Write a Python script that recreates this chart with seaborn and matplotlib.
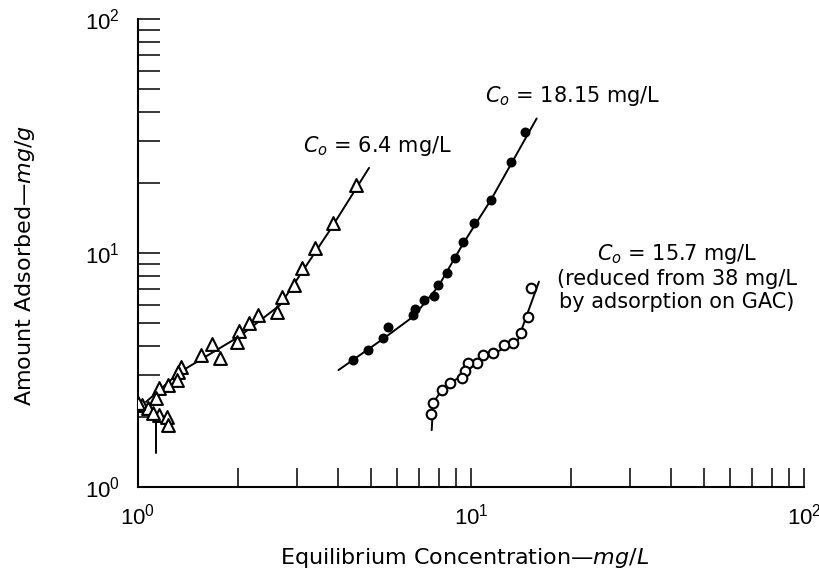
import matplotlib
matplotlib.use("Agg")
import matplotlib.pyplot as plt
import seaborn as sns

# Isotherm data: equilibrium concentration (mg/L) vs amount adsorbed (mg/g)
c1_x = [4.51, 3.84, 3.40, 3.10, 2.94, 2.70, 2.61, 2.29, 2.15, 2.01, 1.98, 1.76,
        1.67, 1.55, 1.35, 1.32, 1.31, 1.23, 1.16, 1.13, 1.03, 1.07, 1.16, 1.22,
        1.23, 1.00, 1.11]
c1_y = [19.5, 13.5, 10.5, 8.60, 7.30, 6.51, 5.61, 5.43, 5.01, 4.66, 4.18, 3.55,
        4.08, 3.67, 3.27, 3.11, 2.87, 2.73, 2.65, 2.39, 2.24, 2.17, 2.03, 2.00,
        1.84, 2.29, 2.07]
fit1_x = [1.057, 1.337, 2.025, 2.670, 3.065, 3.773, 4.94]
fit1_y = [2.31, 3.10, 4.42, 5.99, 8.05, 12.54, 23.1]
drop1_x = [1.13, 1.13]
drop1_y = [2.07, 1.40]

c2_x = [4.43, 4.92, 5.45, 5.65, 6.71, 6.79, 7.22, 7.74, 7.98, 8.47, 8.95, 9.48,
        10.21, 11.46, 13.16, 14.53]
c2_y = [3.49, 3.85, 4.34, 4.84, 5.43, 5.75, 6.30, 6.55, 7.33, 8.21, 9.49, 11.12,
        13.50, 16.85, 24.56, 33.0]
fit2_x = [4.00, 5.45, 6.71, 7.98, 9.48, 11.46, 15.75]
fit2_y = [3.16, 4.30, 5.35, 7.20, 11.0, 16.8, 37.6]

c3_x = [15.14, 14.86, 14.13, 13.40, 12.59, 11.67, 10.89, 10.40, 9.81, 9.59, 9.38,
        8.65, 8.17, 7.70, 7.59]
c3_y = [7.07, 5.31, 4.56, 4.14, 4.05, 3.73, 3.67, 3.40, 3.40, 3.14, 2.91, 2.79,
        2.60, 2.29, 2.05]
fit3_x = [7.62, 7.70, 8.18, 9.40, 10.64, 12.65, 13.84, 14.53, 16.0]
fit3_y = [1.75, 2.29, 2.60, 3.01, 3.49, 3.93, 4.25, 5.17, 7.54]

decade_ticks = [1, 10, 100]
decade_labels = [r"$\mathdefault{10^{0}}$", r"$\mathdefault{10^{1}}$",
                 r"$\mathdefault{10^{2}}$"]
labels = ["$C_o$ = 6.4 mg/L", "$C_o$ = 18.15 mg/L",
          "$C_o$ = 15.7 mg/L\n(reduced from 38 mg/L\nby adsorption on GAC)"]

sns.set_style("ticks")
plt.rcParams["font.family"] = ["DejaVu Sans"]
plt.rcParams["mathtext.fontset"] = "custom"
plt.rcParams["mathtext.rm"] = "DejaVu Sans"
plt.rcParams["mathtext.it"] = "DejaVu Sans:italic"
plt.rcParams["mathtext.bf"] = "DejaVu Sans:bold"
plt.rcParams["text.color"] = "black"
plt.rcParams["axes.labelcolor"] = "black"

fig = plt.figure(figsize=(8.2, 5.7), dpi=100)
ax = fig.add_axes([138 / 820, 1 - 487 / 570, 666 / 820, 468 / 570])
ax.set_xscale("log")
ax.set_yscale("log")

line_kw = dict(color="black", linewidth=1.4, sort=False, estimator=None, ax=ax)
sns.lineplot(x=fit1_x, y=fit1_y, **line_kw)
sns.lineplot(x=drop1_x, y=drop1_y, **line_kw)
sns.lineplot(x=fit2_x, y=fit2_y, **line_kw)
sns.lineplot(x=fit3_x, y=fit3_y, **line_kw)

sns.scatterplot(x=c1_x, y=c1_y, marker="^", s=85, facecolor="white",
                edgecolor="black", linewidth=1.5, ax=ax, zorder=3)
sns.scatterplot(x=c2_x, y=c2_y, marker="o", s=38, facecolor="black",
                edgecolor="black", linewidth=1.0, ax=ax, zorder=3)
sns.scatterplot(x=c3_x, y=c3_y, marker="o", s=48, facecolor="white",
                edgecolor="black", linewidth=1.5, ax=ax, zorder=3)

ax.set_xlim(1, 100)
ax.set_ylim(1, 100)

for s in ("top", "right"):
    ax.spines[s].set_visible(False)
for s in ("left", "bottom"):
    ax.spines[s].set_linewidth(1.5)
    ax.spines[s].set_color("black")

ax.tick_params(axis="x", which="both", direction="in", length=14, width=1.1,
               pad=12, colors="black")
ax.tick_params(axis="y", which="both", direction="in", length=16, width=1.1,
               pad=13, colors="black")
ax.set_xticks(decade_ticks)
ax.set_yticks(decade_ticks)
ax.set_xticklabels(decade_labels, fontsize=16, fontfamily="Liberation Sans")
ax.set_yticklabels(decade_labels, fontsize=16, fontfamily="Liberation Sans")

ax.set_xlabel(r"Equilibrium Concentration—$\it{mg/L}$", fontsize=16)
ax.set_ylabel(r"Amount Adsorbed—$\it{mg/g}$", fontsize=16)
ax.xaxis.set_label_coords(0.491, -0.126)
ax.yaxis.set_label_coords(-0.152, 0.474)

ax.text(3.13, 28.7, labels[0], fontsize=15, ha="left", va="center")
ax.text(11.02, 46.9, labels[1], fontsize=15, ha="left", va="center")
ax.text(41.56, 7.89, labels[2], fontsize=15, ha="center", va="center",
        linespacing=1.2)

fig.savefig("out.png", dpi=100)
